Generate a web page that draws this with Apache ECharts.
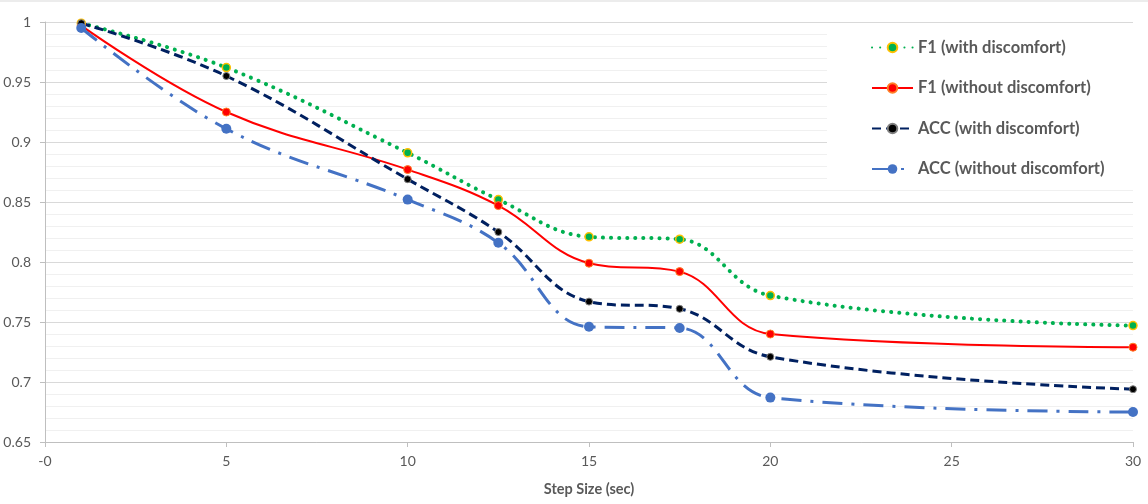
<!DOCTYPE html>
<html>
<head>
<meta charset="utf-8">
<script src="https://cdn.jsdelivr.net/npm/echarts@6/dist/echarts.min.js"></script>
<style>
  html, body { margin: 0; padding: 0; background: #fff; }
  #main { width: 1148px; height: 504px; }
</style>
</head>
<body>
<div id="main"></div>
<script type="text/javascript">
    // step sizes (sec)
    var steps = [1, 5, 10, 12.5, 15, 17.5, 20, 30];
    var seriesNames = ['F1 (with discomfort)', 'F1 (without discomfort)', 'ACC (with discomfort)', 'ACC (without discomfort)'];
    var f1With = [0.999, 0.962, 0.891, 0.852, 0.821, 0.819, 0.772, 0.747];
    var f1Without = [0.997, 0.925, 0.877, 0.847, 0.799, 0.792, 0.740, 0.729];
    var accWith = [0.999, 0.955, 0.869, 0.825, 0.767, 0.761, 0.721, 0.694];
    var accWithout = [0.995, 0.911, 0.852, 0.816, 0.746, 0.745, 0.687, 0.675];

    function pairs(vals) {
        return steps.map(function (s, i) { return [s, vals[i]]; });
    }

    var font = 'Lato, "Open Sans", sans-serif';
    var myChart = echarts.init(document.getElementById('main'));

    var option = {
        animation: false,
        backgroundColor: '#fff',
        grid: { left: 45, right: 15, top: 22, bottom: 62 },
        graphic: [
            { type: 'rect', z: 1, shape: { x: 827, y: 25, width: 306, height: 160 }, style: { fill: '#fff' } },
            { type: 'line', z: 1, shape: { x1: 0, y1: 1, x2: 1148, y2: 1 }, style: { stroke: '#d9d9d9', lineWidth: 1 } }
        ],
        legend: {
            orient: 'vertical',
            left: 866,
            top: 34,
            itemWidth: 41,
            itemHeight: 12,
            itemGap: 23.5,
            textStyle: { fontFamily: font, fontWeight: 'bold', fontSize: 16.5, color: '#595959' },
            data: seriesNames
        },
        xAxis: {
            type: 'value',
            min: 0,
            max: 30,
            interval: 5,
            name: 'Step Size (sec)',
            nameLocation: 'middle',
            nameGap: 40,
            nameTextStyle: { fontFamily: font, fontWeight: 'bold', fontSize: 14.5, color: '#595959' },
            axisLine: { show: true, lineStyle: { color: '#bfbfbf', width: 1 } },
            axisTick: { show: true, length: 5, lineStyle: { color: '#bfbfbf' } },
            axisLabel: {
                fontFamily: font, fontSize: 14, color: '#595959', margin: 12,
                formatter: function (v) { return v === 0 ? '-0' : String(v); }
            },
            splitLine: { show: false }
        },
        yAxis: {
            type: 'value',
            min: 0.65,
            max: 1,
            interval: 0.05,
            axisLine: { show: true, lineStyle: { color: '#bfbfbf', width: 1 } },
            axisTick: { show: true, length: 5, lineStyle: { color: '#bfbfbf' } },
            axisLabel: {
                fontFamily: font, fontSize: 14, color: '#595959', margin: 14,
                formatter: function (v) { return String(+v.toFixed(2)); }
            },
            splitLine: { show: true, lineStyle: { color: '#d9d9d9', width: 1 } },
            minorTick: { show: false, splitNumber: 5 },
            minorSplitLine: { show: true, lineStyle: { color: '#f0f0f0', width: 1 } }
        },
        series: [
            {
                name: seriesNames[0],
                type: 'line',
                smooth: 0.4,
                data: pairs(f1With),
                symbol: 'circle',
                symbolSize: 8,
                itemStyle: { color: '#00B050', borderColor: '#FFC000', borderWidth: 1.5 },
                lineStyle: { color: '#00B050', width: 4, type: [0.1, 8], cap: 'round' }
            },
            {
                name: seriesNames[1],
                type: 'line',
                smooth: 0.4,
                data: pairs(f1Without),
                symbol: 'circle',
                symbolSize: 8,
                itemStyle: { color: '#FF0000', borderColor: '#FF7F27', borderWidth: 1 },
                lineStyle: { color: '#FF0000', width: 2 }
            },
            {
                name: seriesNames[2],
                type: 'line',
                smooth: 0.4,
                data: pairs(accWith),
                symbol: 'circle',
                symbolSize: 7,
                itemStyle: { color: '#000000', borderColor: '#808080', borderWidth: 1 },
                lineStyle: { color: '#002060', width: 3, type: [9, 5] }
            },
            {
                name: seriesNames[3],
                type: 'line',
                smooth: 0.4,
                data: pairs(accWithout),
                symbol: 'circle',
                symbolSize: 10,
                itemStyle: { color: '#4472C4' },
                lineStyle: { color: '#4472C4', width: 3, type: [20, 9, 3, 9] }
            }
        ]
    };

    myChart.setOption(option);
</script>
</body>
</html>
